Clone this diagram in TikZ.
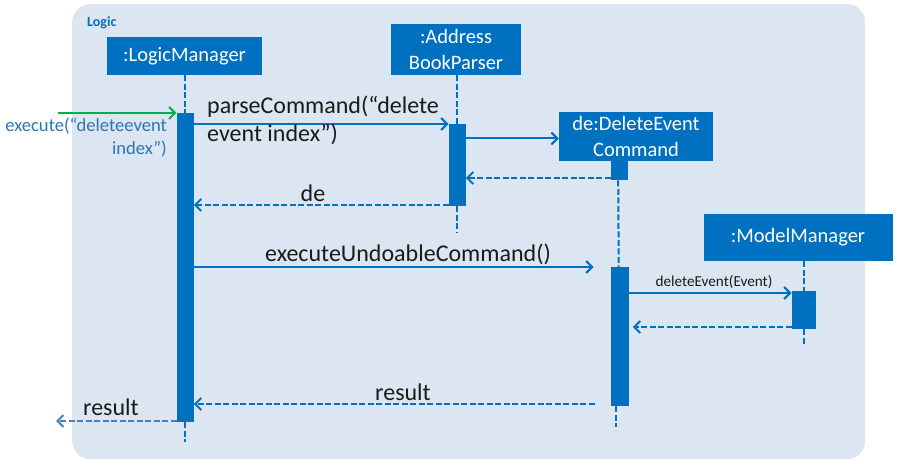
\documentclass[tikz,border=0pt]{standalone}
\usepackage{fontspec}
\setmainfont{Carlito}
\usetikzlibrary{arrows.meta}
\definecolor{mblue}{HTML}{0070C0}
\definecolor{bgblue}{HTML}{DCE6F2}
\definecolor{lblue}{HTML}{2E75B6}
\definecolor{rblue}{HTML}{4A7EBB}
\definecolor{egreen}{HTML}{00B050}
\definecolor{tblack}{HTML}{1A1A1A}
\begin{document}
\begin{tikzpicture}[x=1pt,y=-1pt,
  obj/.style={fill=mblue, text=white, inner sep=0pt, align=center,
    font=\fontsize{20.5}{26}\selectfont},
  actbar/.style={fill=mblue, inner sep=0pt, anchor=north west},
  life/.style={draw=mblue, line width=2pt, dash pattern=on 6pt off 2.5pt},
  msg/.style={draw=mblue, line width=2pt, -{Straight Barb[length=6pt,width=12pt]}},
  ret/.style={msg, dash pattern=on 6pt off 2.5pt},
  lbl/.style={text=tblack, inner sep=0pt, font=\fontsize{24}{28}\selectfont}]
\useasboundingbox (0,0) rectangle (898,465);
% frame
\node[fill=bgblue, rounded corners=18pt, minimum width=793pt, minimum height=455pt,
  inner sep=0pt, anchor=north west] (frame) at (72,4) {};
\node[anchor=base west, inner sep=0pt, text=mblue, font=\fontsize{14}{16}\selectfont\bfseries] (logic) at (87,27) {Logic};
% objects
\node[obj, minimum width=155pt, minimum height=38pt] (lm) at (184.5,56) {:LogicManager};
\node[obj, minimum width=130pt, minimum height=51pt] (abp) at (456,49.5) {:Address\\BookParser};
\node[obj, minimum width=154pt, minimum height=49pt] (dec) at (636,136.5) {de:DeleteEvent\\Command};
\node[obj, minimum width=189pt, minimum height=47pt] (mm) at (798,237.5) {:ModelManager};
% activation bars
\node[actbar, minimum width=17pt, minimum height=309pt] (lmbar) at (176.5,113) {};
\node[actbar, minimum width=17pt, minimum height=82pt] (abpbar) at (448.5,124) {};
\node[actbar, minimum width=17pt, minimum height=19pt] (decbar1) at (610.5,161) {};
\node[actbar, minimum width=18pt, minimum height=139pt] (decbar2) at (610.5,267) {};
\node[actbar, minimum width=24pt, minimum height=38pt] (mmbar) at (791.5,291) {};
% lifelines
\draw[life] (lmbar.north |- lm.south) -- (lmbar.north);
\draw[life] (lmbar.south) -- ++(0,20);
\draw[life] (abpbar.north |- abp.south) -- (abpbar.north);
\draw[life] (abpbar.south) -- ++(0,26);
\draw[life] ([xshift=-1pt]decbar1.south) -- ([xshift=-1pt]decbar2.north);
\draw[life] ([xshift=-4pt]decbar2.south) -- ++(0,21);
\draw[life] (mmbar.north |- mm.south) -- (mmbar.north);
\draw[life] (mmbar.south) -- ++(0,16);
% rows
\coordinate (r113) at (0,113);
\coordinate (r124) at (0,124);
\coordinate (r138) at (0,138.5);
\coordinate (r178) at (0,178);
\coordinate (r205) at (0,205);
\coordinate (r267) at (0,267);
\coordinate (r293) at (0,293);
\coordinate (r327) at (0,327);
\coordinate (r404) at (0,404);
\coordinate (r421) at (0,421);
\coordinate (exstart) at (58,113);
\coordinate (resend) at (56,421);
% messages
\draw[msg, draw=egreen] (exstart) -- (lmbar.west |- r113);
\node[anchor=east, align=right, inner sep=0pt, text=lblue, font=\fontsize{18.6}{23}\selectfont] (exlbl) at (167,137.5) {execute(“deleteevent\\index”)};
\draw[msg] (lmbar.east |- r124) -- (abpbar.west |- r124);
\node[lbl, anchor=west, align=left] (parselbl) at (207,120.5) {parseCommand(“delete\\event index”)};
\draw[msg] (abpbar.east |- r138) -- (dec.west |- r138);
\draw[ret] (decbar1.west |- r178) -- (abpbar.east |- r178);
\draw[ret] (abpbar.west |- r205) -- (lmbar.east |- r205);
\node[lbl, anchor=base] (delbl) at (313,202) {de};
\draw[msg] (lmbar.east |- r267) -- ([xshift=-17pt]decbar2.west |- r267);
\node[lbl, anchor=base] (eulbl) at (408,262) {executeUndoableCommand()};
\draw[msg] (decbar2.east |- r293) -- (mmbar.west |- r293);
\node[text=tblack, inner sep=0pt, anchor=base, font=\fontsize{15.2}{17}\selectfont] (dellbl) at (714,287) {deleteEvent(Event)};
\draw[ret] (mmbar.west |- r327) -- ([xshift=4pt]decbar2.east |- r327);
\draw[ret] ([xshift=-16pt]decbar2.west |- r404) -- (lmbar.east |- r404);
\node[lbl, anchor=base] (res1lbl) at (403,400) {result};
\draw[ret, draw=rblue] (lmbar.west |- r421) -- (resend);
\node[lbl, anchor=base] (res2lbl) at (111,416) {result};
\end{tikzpicture}
\end{document}
